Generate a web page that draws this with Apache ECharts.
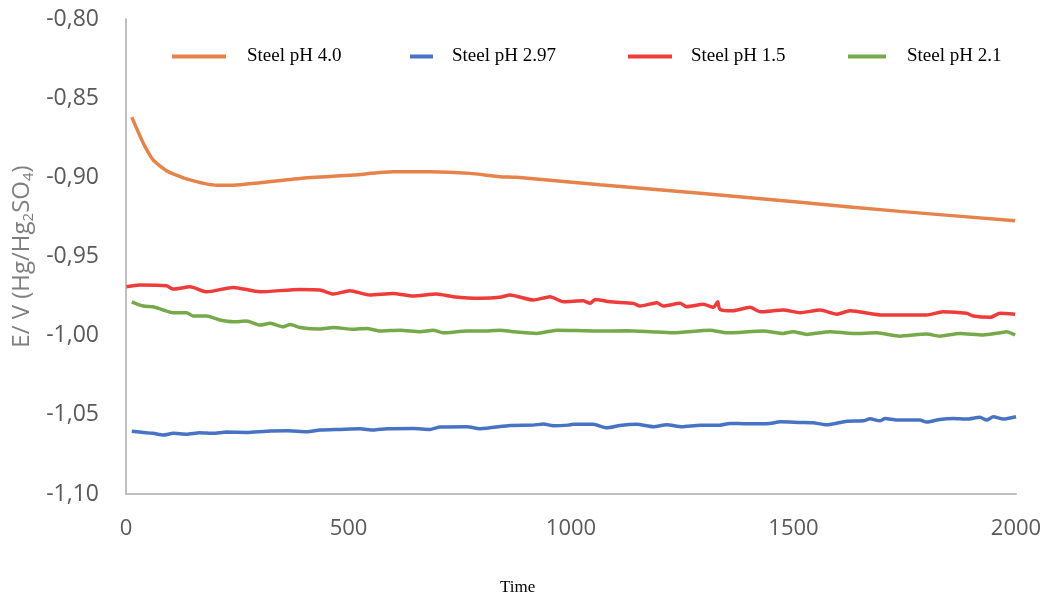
<!DOCTYPE html>
<html>
<head>
<meta charset="utf-8">
<script src="https://cdn.jsdelivr.net/npm/echarts@6/dist/echarts.min.js"></script>
<style>html,body{margin:0;padding:0;background:#fff}#c{width:1052px;height:600px}</style>
</head>
<body>
<div id="c"></div>
<script>
// ---- data ----
const seriesNames = ['Steel pH 4.0', 'Steel pH 2.97', 'Steel pH 1.5', 'Steel pH 2.1'];
const xTicks = [0, 500, 1000, 1500, 2000];
const yTicks = [-1.10, -1.05, -1.00, -0.95, -0.90, -0.85, -0.80];

const tOrange = [13, 39, 61, 91, 136, 204, 241, 301, 391, 511, 600, 683, 773, 840, 878, 1065, 1290, 1515, 1739, 1998];
const vOrange = [-0.862, -0.8785, -0.889, -0.8958, -0.901, -0.905, -0.905, -0.9034, -0.9007, -0.8985, -0.8965, -0.8965, -0.8975, -0.8996, -0.900, -0.9047, -0.9101, -0.9158, -0.9215, -0.9274];

const tBlue = [13, 61, 84, 106, 136, 166, 196, 226, 271, 316, 361, 406, 436, 481, 526, 556, 586, 646, 683, 706, 766, 796, 863, 915, 938, 960, 994, 1005, 1050, 1080, 1110, 1148, 1185, 1215, 1249, 1290, 1335, 1357, 1395, 1447, 1470, 1515, 1544, 1575, 1620, 1657, 1672, 1694, 1706, 1732, 1754, 1784, 1799, 1829, 1859, 1889, 1919, 1934, 1949, 1971, 2000];
const vBlue = [-1.0603, -1.0617, -1.0628, -1.0617, -1.0622, -1.0613, -1.0617, -1.0609, -1.0611, -1.0603, -1.0601, -1.0607, -1.0596, -1.0592, -1.0588, -1.0596, -1.0588, -1.0586, -1.0592, -1.0577, -1.0575, -1.0588, -1.0567, -1.0565, -1.0558, -1.0569, -1.0565, -1.056, -1.056, -1.0582, -1.0567, -1.056, -1.0575, -1.0563, -1.0575, -1.0565, -1.0565, -1.0554, -1.0557, -1.0554, -1.0544, -1.0548, -1.055, -1.0563, -1.054, -1.0538, -1.0525, -1.0538, -1.0523, -1.0533, -1.0533, -1.0533, -1.0546, -1.0529, -1.0523, -1.0527, -1.0516, -1.0533, -1.0512, -1.0527, -1.0512];

const tRed = [1, 31, 91, 106, 144, 181, 241, 301, 391, 436, 466, 503, 548, 600, 645, 698, 735, 796, 840, 863, 915, 953, 983, 1027, 1043, 1054, 1088, 1140, 1155, 1193, 1207, 1245, 1260, 1297, 1320, 1330, 1331, 1335, 1364, 1402, 1425, 1477, 1515, 1560, 1597, 1627, 1702, 1799, 1836, 1889, 1904, 1942, 1964, 1998];
const vRed = [-0.9691, -0.968, -0.9685, -0.9706, -0.9691, -0.9723, -0.9695, -0.9723, -0.9708, -0.9712, -0.9737, -0.9716, -0.9743, -0.9733, -0.975, -0.9737, -0.9754, -0.9764, -0.9758, -0.9743, -0.9775, -0.9754, -0.9786, -0.978, -0.9796, -0.9771, -0.9786, -0.9796, -0.9813, -0.9792, -0.9813, -0.9796, -0.9817, -0.9802, -0.9821, -0.9786, -0.9786, -0.9834, -0.9843, -0.9821, -0.9849, -0.9838, -0.9855, -0.9838, -0.9864, -0.9843, -0.987, -0.987, -0.9849, -0.9859, -0.9876, -0.9884, -0.9859, -0.9864];

const tGreen = [13, 39, 61, 84, 106, 136, 151, 181, 211, 241, 271, 301, 324, 353, 369, 391, 436, 466, 511, 541, 571, 616, 661, 690, 712, 766, 811, 840, 870, 923, 968, 1058, 1125, 1178, 1229, 1312, 1350, 1432, 1477, 1499, 1530, 1582, 1634, 1687, 1739, 1799, 1829, 1874, 1926, 1964, 1979, 1998];
const vGreen = [-0.9786, -0.9813, -0.9817, -0.9838, -0.9855, -0.9855, -0.9876, -0.9876, -0.9901, -0.9912, -0.9908, -0.9933, -0.9922, -0.9944, -0.9929, -0.9948, -0.9958, -0.9948, -0.996, -0.9954, -0.9971, -0.9965, -0.9975, -0.9965, -0.9982, -0.9971, -0.9971, -0.9965, -0.9975, -0.9986, -0.9965, -0.9971, -0.9969, -0.9975, -0.9982, -0.9965, -0.9982, -0.9971, -0.9986, -0.9975, -0.9992, -0.9975, -0.9986, -0.9982, -1.0003, -0.999, -1.0003, -0.9986, -0.9996, -0.9982, -0.9975, -0.9996];

const colors = ['#E6834A', '#4773C5', '#EF3B3A', '#76A94A'];

function pairs(t, v) { return t.map((x, i) => [x, v[i]]); }
const allT = [tOrange, tBlue, tRed, tGreen];
const allV = [vOrange, vBlue, vRed, vGreen];

const chart = echarts.init(document.getElementById('c'), null, { renderer: 'canvas' });

const legendPos = [
  { left: 167, w: 54, gap: 16 },
  { left: 405, w: 23, gap: 14 },
  { left: 623, w: 44, gap: 14 },
  { left: 843, w: 38, gap: 16 }
];

const option = {
  backgroundColor: '#ffffff',
  animation: false,
  grid: { left: 126, right: 36, top: 19, bottom: 106 },
  title: {
    text: 'Time', left: 495, top: 574,
    textStyle: { fontFamily: 'Liberation Serif', fontSize: 17, fontWeight: 'normal', color: '#000' }
  },
  legend: legendPos.map((p, i) => ({
    data: [seriesNames[i]],
    left: p.left, top: 42,
    icon: 'rect', itemWidth: p.w, itemHeight: 4,
    textStyle: { fontFamily: 'Liberation Serif', fontSize: 19, color: '#000', padding: [0, 0, 0, p.gap] }
  })),
  xAxis: {
    type: 'value', min: 0, max: 2000, interval: 500,
    axisLine: { show: true, lineStyle: { color: '#BFBFBF', width: 2 } },
    axisTick: { show: false },
    splitLine: { show: false },
    axisLabel: { margin: 24, fontFamily: 'Open Sans', fontSize: 22, color: '#595959', formatter: v => String(v) }
  },
  yAxis: {
    type: 'value', min: -1.10, max: -0.80, interval: 0.05,
    axisLine: { show: true, lineStyle: { color: '#BFBFBF', width: 2 } },
    axisTick: { show: false },
    splitLine: { show: false },
    axisLabel: {
      margin: 27, fontFamily: 'Open Sans', fontSize: 23, color: '#595959',
      formatter: v => v.toFixed(2).replace('.', ',')
    },
    name: 'E/ V (Hg/Hg{s|2}SO{s|4})',
    nameLocation: 'middle', nameGap: 90, nameRotate: 90,
    nameMoveOverlap: false,
    nameTextStyle: {
      fontFamily: 'Open Sans', fontSize: 24, color: '#7F7F7F',
      rich: { s: { fontFamily: 'Open Sans', fontSize: 15, color: '#7F7F7F', verticalAlign: 'bottom', padding: [12, 0, 0, 0] } }
    }
  },
  series: seriesNames.map((n, i) => ({
    name: n, type: 'line', data: pairs(allT[i], allV[i]),
    showSymbol: false, smooth: 0.2,
    lineStyle: { color: colors[i], width: 3.5 },
    itemStyle: { color: colors[i] }
  }))
};
chart.setOption(option);
</script>
</body>
</html>
